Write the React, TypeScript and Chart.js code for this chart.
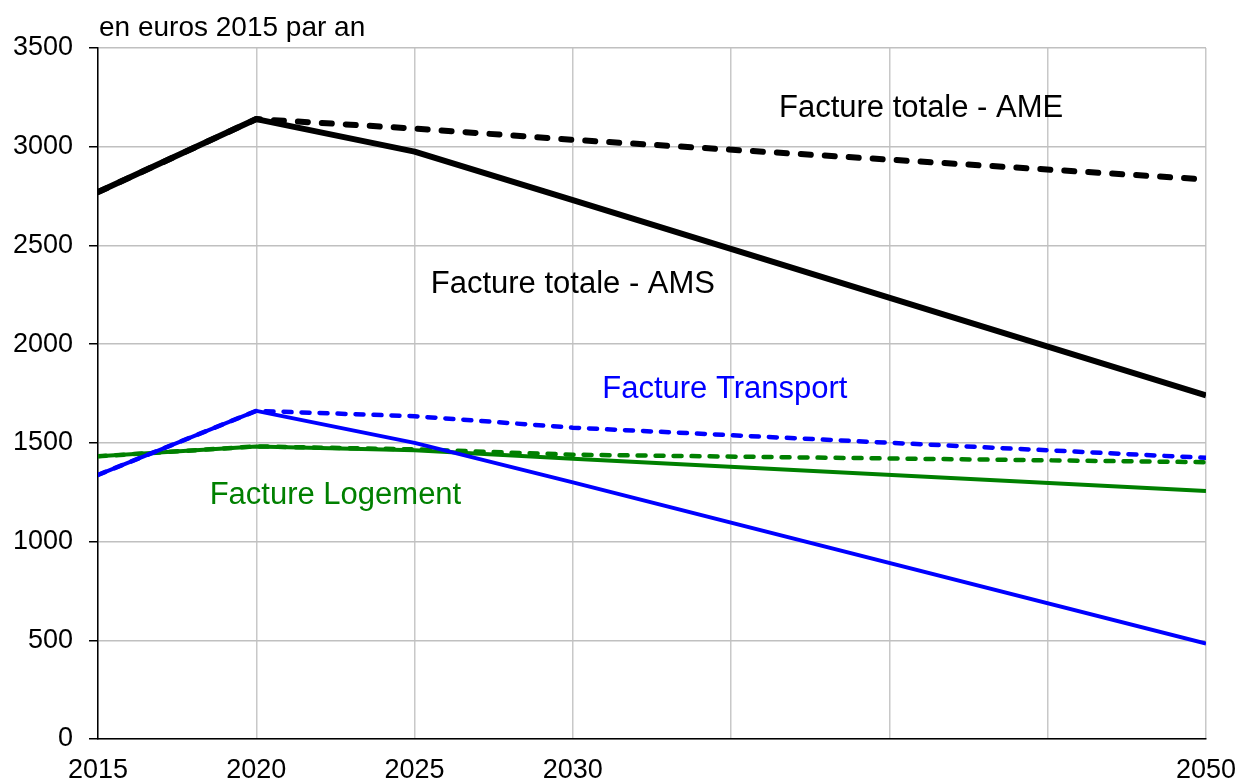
import React, { useEffect, useRef } from 'react';
import { Chart, registerables } from 'chart.js';

Chart.register(...registerables);

// ---- Data ----
const years = [2015, 2020, 2025, 2030, 2050];
const totalAMS = [2770, 3140, 2975, 2730, 1740];
const totalAME = [2770, 3140, 3092, 3035, 2834];
const transportAMS = [1338, 1662, 1500, 1300, 483];
const transportAME = [1338, 1662, 1635, 1577, 1424];
const logementAMS = [1432, 1482, 1463, 1420, 1256];
const logementAME = [1432, 1482, 1467, 1440, 1402];

const xTickValues = [2015, 2020, 2025, 2030, 2035, 2040, 2045, 2050];
const xTickShown = [2015, 2020, 2025, 2030, 2050];

const labelTexts = ['Facture totale - AME', 'Facture totale - AMS', 'Facture Transport', 'Facture Logement'];
const labelYears = [2041.0, 2030.0, 2034.8, 2022.5];
const labelValues = [3192, 2302, 1771, 1234];
const labelColors = ['#000000', '#000000', '#0000ff', '#008000'];

const unitText = 'en euros 2015 par an';

const FONT = "'Liberation Sans', Arial, sans-serif";

const toPoints = (vals: number[]) => vals.map((v, i) => ({ x: years[i], y: v }));

const annotationPlugin = {
  id: 'annotations',
  afterDatasetsDraw(chart: any) {
    const { ctx, scales, chartArea } = chart;
    ctx.save();
    ctx.textBaseline = 'middle';
    ctx.font = `31px ${FONT}`;
    ctx.textAlign = 'center';
    labelTexts.forEach((t, i) => {
      ctx.fillStyle = labelColors[i];
      ctx.fillText(t, scales.x.getPixelForValue(labelYears[i]), scales.y.getPixelForValue(labelValues[i]));
    });
    ctx.font = `28px ${FONT}`;
    ctx.textAlign = 'left';
    ctx.fillStyle = '#000000';
    ctx.fillText(unitText, chartArea.left + 1, chartArea.top - 19.5);
    ctx.restore();
  },
};

export default function App() {
  const ref = useRef<HTMLCanvasElement>(null);

  useEffect(() => {
    document.body.style.margin = '0';
    const chart = new Chart(ref.current as HTMLCanvasElement, {
      type: 'line',
      data: {
        datasets: [
          {
            label: 'Facture totale - AMS',
            data: toPoints(totalAMS),
            borderColor: '#000000',
            borderWidth: 6,
          },
          {
            label: 'Facture totale - AME',
            data: toPoints(totalAME),
            borderColor: '#000000',
            borderWidth: 6,
            borderDash: [10, 14],
            borderCapStyle: 'round',
          },
          {
            label: 'Transport AMS',
            data: toPoints(transportAMS),
            borderColor: '#0000ff',
            borderWidth: 4,
          },
          {
            label: 'Transport AME',
            data: toPoints(transportAME),
            borderColor: '#0000ff',
            borderWidth: 4.5,
            borderDash: [8, 10],
            borderCapStyle: 'round',
          },
          {
            label: 'Logement AMS',
            data: toPoints(logementAMS),
            borderColor: '#008000',
            borderWidth: 4,
          },
          {
            label: 'Logement AME',
            data: toPoints(logementAME),
            borderColor: '#008000',
            borderWidth: 4.5,
            borderDash: [8, 10],
            borderCapStyle: 'round',
          },
        ] as any,
      },
      options: {
        animation: false,
        responsive: true,
        maintainAspectRatio: false,
        layout: { padding: { top: 48, right: 33, left: 0, bottom: 0 } },
        elements: {
          point: { radius: 0, hoverRadius: 0 },
          line: { tension: 0, borderJoinStyle: 'round', fill: false },
        },
        plugins: {
          legend: { display: false },
          tooltip: { enabled: false },
          title: { display: false },
        },
        scales: {
          x: {
            type: 'linear',
            min: 2015,
            max: 2050,
            afterBuildTicks: (scale: any) => {
              scale.ticks = xTickValues.map((v) => ({ value: v }));
            },
            afterFit: (scale: any) => {
              scale.height = 43;
              scale.paddingRight = 0;
              scale.paddingLeft = 0;
            },
            ticks: {
              color: '#000000',
              font: { size: 27, family: FONT },
              padding: 15,
              maxRotation: 0,
              autoSkip: false,
              callback: (v: any) => (xTickShown.includes(Number(v)) ? String(v) : ''),
            },
            grid: {
              color: '#c8c8c8',
              lineWidth: 1.5,
              drawTicks: false,
            },
            border: { color: '#000000', width: 1.5 },
          },
          y: {
            min: 0,
            max: 3500,
            afterFit: (scale: any) => {
              scale.width = 98;
            },
            ticks: {
              stepSize: 500,
              color: '#000000',
              font: { size: 27, family: FONT },
              padding: 16,
              callback: (v: any) => String(v),
            },
            grid: {
              color: '#c0c0c0',
              lineWidth: 1.5,
              tickLength: 9,
              tickColor: '#000000',
            },
            border: { color: '#000000', width: 1.5 },
          },
        },
      } as any,
      plugins: [annotationPlugin],
    });
    return () => chart.destroy();
  }, []);

  return (
    <div
      style={{
        position: 'fixed',
        left: 0,
        top: 0,
        width: 1239,
        height: 782,
        overflow: 'hidden',
        background: '#ffffff',
      }}
    >
      <canvas ref={ref} />
    </div>
  );
}
